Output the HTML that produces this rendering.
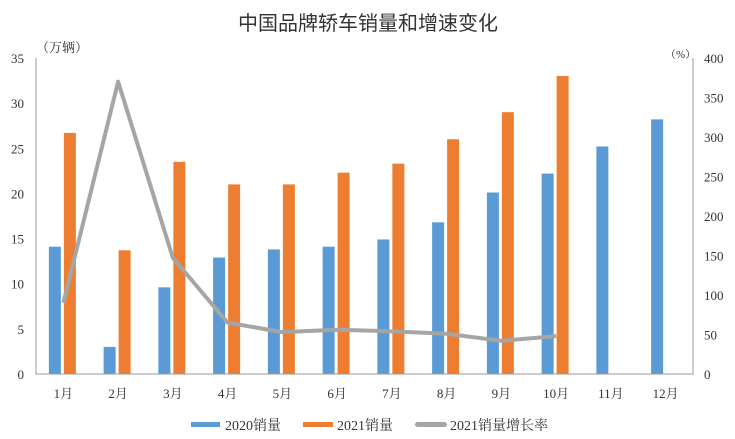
<!DOCTYPE html>
<html><head><meta charset="utf-8"><style>
body{margin:0;background:#fff;}
svg{display:block;font-family:"Liberation Serif","Noto Serif CJK SC","Noto Sans CJK SC",serif;}
</style></head><body>
<svg id="c" width="735" height="439">
<rect width="735" height="439" fill="#fff"/>
<text x="368" y="30" text-anchor="middle" font-size="20" fill="#333" font-family="Liberation Sans,Noto Sans CJK SC,sans-serif">中国品牌轿车销量和增速变化</text>
<text x="36" y="52" font-size="13" fill="#333">（万辆）</text>
<text x="665" y="58" font-size="11" fill="#333">（%）</text>
<g id="g"></g>
<g>
<rect x="191" y="422" width="29" height="5" fill="#5b9bd5"/>
<text x="225" y="430" font-size="14" fill="#333">2020销量</text>
<rect x="303" y="422" width="30" height="5" fill="#ed7d31"/>
<text x="337" y="430" font-size="14" fill="#333">2021销量</text>
<rect x="415" y="422" width="32" height="5" rx="2.5" fill="#a5a5a5"/>
<text x="450" y="430" font-size="14" fill="#333">2021销量增长率</text>
</g>
</svg>
<script>
const categories=["1月","2月","3月","4月","5月","6月","7月","8月","9月","10月","11月","12月"];
const sales2020=[14.1,3.0,9.6,12.9,13.8,14.1,14.9,16.8,20.1,22.2,25.2,28.2];
const sales2021=[26.7,13.7,23.5,21.0,21.0,22.3,23.3,26.0,29.0,33.0];
const growth2021=[90,370,147,65,53,56,54,51,42,48];
const leftTicks=[0,5,10,15,20,25,30,35];
const rightTicks=[0,50,100,150,200,250,300,350,400];
const NS="http://www.w3.org/2000/svg";
const g=document.getElementById('g');
const X0=36,X1=693,Y0=374,Y1=58;
const cw=(X1-X0)/categories.length;
const yL=v=>Y0-(v/35)*(Y0-Y1);
const yR=v=>Y0-(v/400)*(Y0-Y1);
const xC=i=>X0+cw*(i+0.5);
function mk(t,a,txt){const e=document.createElementNS(NS,t);for(const k in a)e.setAttribute(k,a[k]);if(txt!==undefined)e.textContent=txt;g.appendChild(e);return e;}
leftTicks.forEach(v=>{const e=mk('text',{x:24,y:yL(v)+5,'text-anchor':'end','font-size':13,fill:'#333'},v);

});
rightTicks.forEach(v=>{const e=mk('text',{x:704,y:yR(v)+5,'font-size':13,fill:'#333'},v);

});
sales2020.forEach((v,i)=>{const e=mk('rect',{x:xC(i)-14.5,y:yL(v),width:12,height:Y0-yL(v),fill:'#5b9bd5'});

});
sales2021.forEach((v,i)=>{const e=mk('rect',{x:xC(i)+0.5,y:yL(v),width:12,height:Y0-yL(v),fill:'#ed7d31'});

});
const pl=mk('polyline',{points:growth2021.map((v,i)=>xC(i)+','+yR(v)).join(' '),fill:'none',stroke:'#a5a5a5','stroke-width':4,'stroke-linejoin':'round'});


const ax=mk('path',{d:`M${X0},${Y1}V${Y0}H${X1}V${Y1}`,fill:'none',stroke:'#999','stroke-width':1});


categories.forEach((c,i)=>{const e=mk('text',{x:xC(i),y:398,'text-anchor':'middle','font-size':13,fill:'#333'},c);

});
</script>
</body></html>
